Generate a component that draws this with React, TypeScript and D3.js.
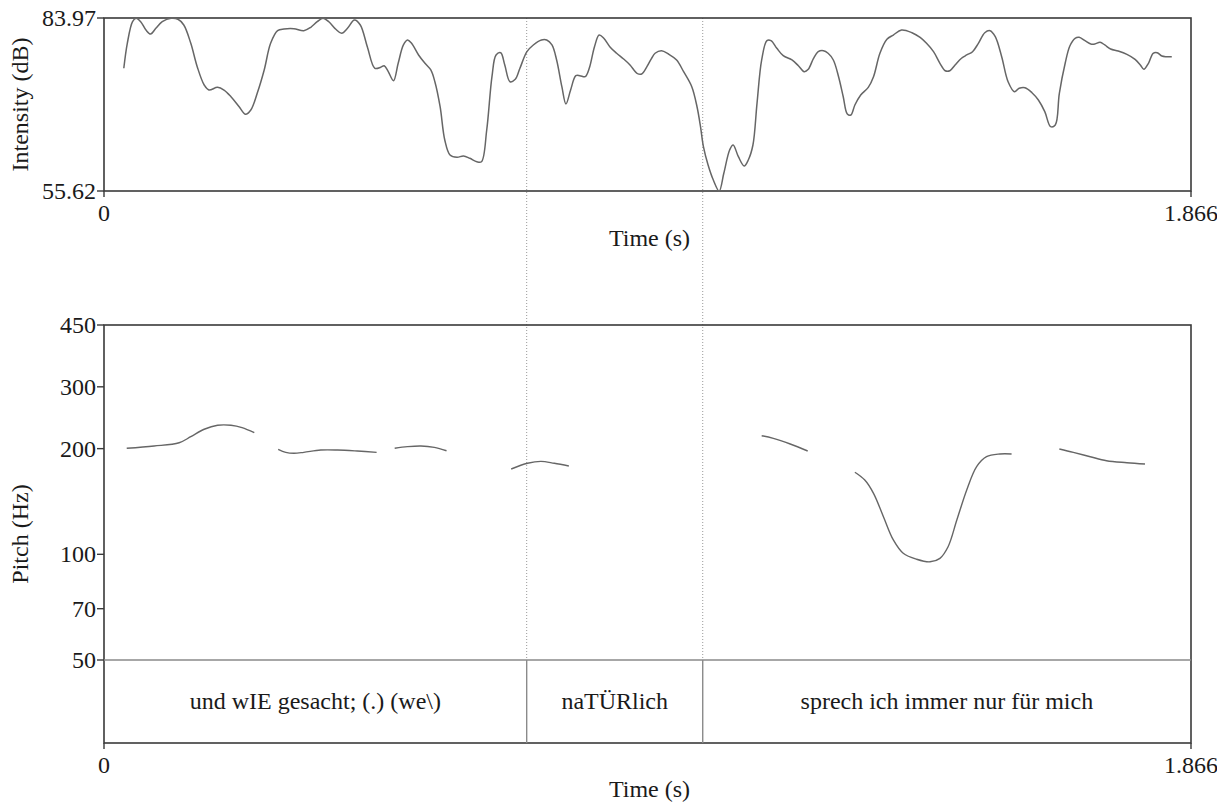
import * as d3 from "d3";
import React, { useRef, useEffect } from "react";

const W = 1226;
const H = 805;
const tMax = 1.866;
const dbMin = 55.62;
const dbMax = 83.97;

// intensity contour: [time (s), dB]
const intensity = [
  [0.034, 75.73], [0.04, 79.82], [0.049, 83.36], [0.055, 83.92], [0.063, 83.36],
  [0.072, 82.0], [0.08, 81.35], [0.089, 82.28], [0.1, 83.36], [0.115, 83.92],
  [0.127, 83.76], [0.137, 82.82], [0.149, 79.82], [0.16, 75.99], [0.172, 72.99],
  [0.18, 72.17], [0.195, 72.61], [0.206, 72.17], [0.218, 71.07], [0.232, 69.43],
  [0.243, 68.19], [0.252, 68.89], [0.263, 71.63], [0.275, 75.45], [0.286, 79.82],
  [0.298, 81.89], [0.309, 82.17], [0.326, 82.22], [0.343, 81.89], [0.355, 82.45],
  [0.366, 83.36], [0.376, 83.92], [0.386, 83.36], [0.398, 82.12], [0.408, 81.46],
  [0.418, 82.28], [0.43, 83.64], [0.44, 82.82], [0.452, 79.27], [0.465, 75.73],
  [0.475, 75.89], [0.481, 76.15], [0.488, 75.17], [0.497, 73.7], [0.505, 76.55],
  [0.514, 79.55], [0.521, 80.36], [0.528, 79.82], [0.54, 77.91], [0.551, 76.55],
  [0.561, 75.45], [0.568, 73.53], [0.577, 69.43], [0.585, 63.98], [0.594, 61.52],
  [0.606, 61.14], [0.617, 61.36], [0.628, 60.98], [0.64, 60.42], [0.648, 60.42],
  [0.657, 65.62], [0.666, 74.35], [0.673, 77.91], [0.681, 78.28], [0.688, 76.27],
  [0.697, 73.53], [0.706, 73.92], [0.714, 75.73], [0.726, 78.45], [0.737, 79.55],
  [0.751, 80.36], [0.76, 80.36], [0.769, 79.55], [0.777, 77.09], [0.786, 72.71],
  [0.793, 69.88], [0.801, 72.17], [0.81, 74.51], [0.817, 74.51], [0.826, 74.35],
  [0.833, 75.73], [0.842, 79.27], [0.85, 81.18], [0.858, 80.64], [0.869, 79.17],
  [0.88, 78.19], [0.892, 77.25], [0.903, 76.27], [0.915, 74.91], [0.923, 74.79],
  [0.932, 75.99], [0.94, 77.37], [0.946, 78.19], [0.957, 78.61], [0.969, 78.07],
  [0.983, 77.09], [0.995, 75.17], [1.009, 72.71], [1.018, 69.43], [1.024, 66.16],
  [1.029, 62.88], [1.037, 59.88], [1.046, 57.42], [1.056, 55.62], [1.064, 58.52],
  [1.074, 62.34], [1.08, 63.16], [1.089, 61.24], [1.099, 59.72], [1.106, 60.7],
  [1.114, 63.16], [1.121, 69.99], [1.129, 77.09], [1.138, 80.25], [1.145, 80.25],
  [1.155, 79.0], [1.166, 77.79], [1.181, 77.09], [1.192, 76.15], [1.202, 75.17],
  [1.209, 75.56], [1.218, 77.37], [1.226, 78.45], [1.235, 78.61], [1.243, 78.19],
  [1.252, 77.09], [1.261, 74.35], [1.269, 71.07], [1.276, 68.24], [1.282, 68.07],
  [1.289, 69.71], [1.299, 71.35], [1.312, 72.61], [1.321, 74.35], [1.332, 78.19],
  [1.344, 80.48], [1.355, 81.18], [1.369, 82.0], [1.387, 81.56], [1.401, 80.78],
  [1.412, 79.82], [1.424, 78.45], [1.435, 76.55], [1.444, 75.33], [1.452, 75.33],
  [1.461, 76.27], [1.472, 77.37], [1.481, 77.91], [1.491, 78.45], [1.501, 79.82],
  [1.512, 81.56], [1.521, 81.89], [1.53, 80.91], [1.541, 77.63], [1.552, 73.53],
  [1.563, 71.89], [1.571, 72.45], [1.581, 72.55], [1.593, 71.73], [1.604, 70.53],
  [1.615, 68.62], [1.625, 66.16], [1.633, 66.44], [1.64, 71.63], [1.65, 76.55],
  [1.658, 79.38], [1.667, 80.64], [1.674, 80.81], [1.684, 80.25], [1.694, 79.71],
  [1.701, 79.71], [1.71, 79.99], [1.718, 79.55], [1.728, 78.89], [1.741, 78.56],
  [1.756, 78.02], [1.77, 77.2], [1.779, 76.27], [1.785, 75.56], [1.793, 76.55],
  [1.801, 78.19], [1.808, 78.28], [1.816, 77.74], [1.824, 77.63], [1.833, 77.63],
];

// pitch contour, voiced stretches only: [time (s), Hz]
const pitch1 = [[0.039, 200.5], [0.086, 203.5], [0.129, 207.9], [0.149, 216.3], [0.172, 227.1], [0.195, 233.1], [0.218, 233.1], [0.237, 229.5], [0.258, 222.0]];
const pitch2 = [[0.299, 199.1], [0.312, 195.2], [0.326, 194.0], [0.343, 195.2], [0.372, 198.2], [0.401, 198.2], [0.435, 196.9], [0.468, 195.2]];
const pitch3 = [[0.499, 200.5], [0.521, 202.6], [0.544, 203.5], [0.567, 201.7], [0.588, 197.3]];
const pitch4 = [[0.699, 175.0], [0.727, 181.7], [0.75, 184.0], [0.773, 181.7], [0.798, 178.5]];
const pitch5 = [[1.129, 217.7], [1.149, 214.0], [1.178, 206.2], [1.208, 196.9]];
const pitch6 = [[1.289, 171.3], [1.306, 162.8], [1.321, 149.2], [1.338, 128.0], [1.355, 109.9], [1.372, 100.7], [1.395, 96.8], [1.418, 95.2], [1.435, 97.4], [1.449, 105.1], [1.464, 125.2], [1.481, 152.5], [1.498, 177.7], [1.515, 189.7], [1.538, 193.1], [1.558, 193.1]];
const pitch7 = [[1.64, 199.5], [1.664, 195.2], [1.693, 189.7], [1.721, 184.8], [1.756, 182.4], [1.787, 180.8]];
const pitchSegments = [pitch1, pitch2, pitch3, pitch4, pitch5, pitch6, pitch7];

const pitchTicks = [450, 300, 200, 100, 70, 50];
const boundaries = [0.7256, 1.0278];
const intervals = [
  { start: 0, end: 0.7256, label: "und wIE gesacht; (.) (we\\)" },
  { start: 0.7256, end: 1.0278, label: "naTÜRlich" },
  { start: 1.0278, end: 1.866, label: "sprech ich immer nur für mich" },
];

const font = "Liberation Serif, DejaVu Serif, serif";
const fs = 24;
const frameColor = "#3a3a3a";
const curveColor = "#666";

function App() {
  const ref = useRef(null);

  useEffect(() => {
    const svg = d3.select(ref.current);
    svg.selectAll("*").remove();
    draw(svg);
  }, []);

  const draw = (svg) => {
    const left = 104, right = 1191;
    const top1 = 18, bot1 = 191;
    const top2 = 325, gridTop = 660, bot2 = 743;

    const x = d3.scaleLinear().domain([0, tMax]).range([left, right]);
    const yInt = d3.scaleLinear().domain([dbMin, dbMax]).range([bot1, top1]);
    const yPitch = d3.scaleLog().domain([50, 450]).range([gridTop, top2]);

    const txt = () => svg.append("text")
      .style("font-family", font).style("font-size", fs + "px").attr("fill", "#1a1a1a");

    svg.append("defs").append("clipPath").attr("id", "edge")
      .append("rect").attr("x", 0).attr("y", 0).attr("width", 1217).attr("height", H);

    // dotted boundary lines through both panels
    boundaries.forEach((b) => {
      svg.append("line")
        .attr("x1", x(b)).attr("x2", x(b))
        .attr("y1", top1).attr("y2", gridTop)
        .attr("stroke", "#999").attr("stroke-width", 1)
        .attr("stroke-dasharray", "1,2");
    });

    // ---- intensity panel
    svg.append("rect")
      .attr("x", left).attr("y", top1)
      .attr("width", right - left).attr("height", bot1 - top1)
      .attr("fill", "none").attr("stroke", frameColor).attr("stroke-width", 1.6);

    const line = d3.line()
      .x((d) => x(d[0]))
      .y((d) => yInt(d[1]))
      .curve(d3.curveCatmullRom.alpha(0.5));

    svg.append("path")
      .attr("d", line(intensity))
      .attr("fill", "none").attr("stroke", curveColor).attr("stroke-width", 1.5);

    [dbMax, dbMin].forEach((v) => {
      svg.append("line")
        .attr("x1", left - 7).attr("x2", left)
        .attr("y1", yInt(v)).attr("y2", yInt(v))
        .attr("stroke", frameColor).attr("stroke-width", 1.4);
      txt()
        .attr("x", left - 8).attr("y", yInt(v)).attr("dy", "0.34em")
        .attr("text-anchor", "end")
        .text(v.toFixed(2));
    });

    [0, tMax].forEach((v) => {
      svg.append("line")
        .attr("x1", x(v)).attr("x2", x(v))
        .attr("y1", bot1).attr("y2", bot1 + 6)
        .attr("stroke", frameColor).attr("stroke-width", 1.4);
    });
    txt().attr("x", x(0)).attr("y", 221).attr("text-anchor", "middle").text("0");
    txt().attr("x", x(tMax)).attr("y", 221).attr("text-anchor", "middle")
      .attr("clip-path", "url(#edge)").text(String(tMax));
    txt().attr("x", (left + right) / 2 + 2).attr("y", 246)
      .attr("text-anchor", "middle").text("Time (s)");
    txt()
      .attr("transform", "translate(28," + (top1 + bot1) / 2 + ")rotate(-90)")
      .attr("text-anchor", "middle").text("Intensity (dB)");

    // ---- pitch panel
    svg.append("rect")
      .attr("x", left).attr("y", top2)
      .attr("width", right - left).attr("height", bot2 - top2)
      .attr("fill", "none").attr("stroke", frameColor).attr("stroke-width", 1.6);

    const pline = d3.line()
      .x((d) => x(d[0]))
      .y((d) => yPitch(d[1]))
      .curve(d3.curveCatmullRom);

    pitchSegments.forEach((seg) => {
      svg.append("path")
        .attr("d", pline(seg))
        .attr("fill", "none").attr("stroke", curveColor).attr("stroke-width", 1.4);
    });

    pitchTicks.forEach((v) => {
      svg.append("line")
        .attr("x1", left - 7).attr("x2", left)
        .attr("y1", yPitch(v)).attr("y2", yPitch(v))
        .attr("stroke", frameColor).attr("stroke-width", 1.4);
      txt()
        .attr("x", left - 8).attr("y", yPitch(v)).attr("dy", "0.34em")
        .attr("text-anchor", "end")
        .text(v);
    });

    // text grid tier
    svg.append("line")
      .attr("x1", left).attr("x2", right)
      .attr("y1", gridTop).attr("y2", gridTop)
      .attr("stroke", "#8a8a8a").attr("stroke-width", 1.4);

    boundaries.forEach((b) => {
      svg.append("line")
        .attr("x1", x(b)).attr("x2", x(b))
        .attr("y1", gridTop).attr("y2", bot2)
        .attr("stroke", "#8a8a8a").attr("stroke-width", 1.4);
    });

    intervals.forEach((iv) => {
      txt()
        .attr("x", (x(iv.start) + x(iv.end)) / 2)
        .attr("y", (gridTop + bot2) / 2).attr("dy", "0.32em")
        .attr("text-anchor", "middle")
        .text(iv.label);
    });

    [0, tMax].forEach((v) => {
      svg.append("line")
        .attr("x1", x(v)).attr("x2", x(v))
        .attr("y1", bot2).attr("y2", bot2 + 6)
        .attr("stroke", frameColor).attr("stroke-width", 1.4);
    });
    txt().attr("x", x(0)).attr("y", 773).attr("text-anchor", "middle").text("0");
    txt().attr("x", x(tMax)).attr("y", 773).attr("text-anchor", "middle")
      .attr("clip-path", "url(#edge)").text(String(tMax));
    txt().attr("x", (left + right) / 2 + 2).attr("y", 797)
      .attr("text-anchor", "middle").text("Time (s)");
    txt()
      .attr("transform", "translate(28," + (top2 + bot2) / 2 + ")rotate(-90)")
      .attr("text-anchor", "middle").text("Pitch (Hz)");
  };

  return (
    <svg
      ref={ref}
      width={W}
      height={H}
      style={{ position: "absolute", left: 0, top: 0, background: "#fff" }}
    ></svg>
  );
}

export default App;
